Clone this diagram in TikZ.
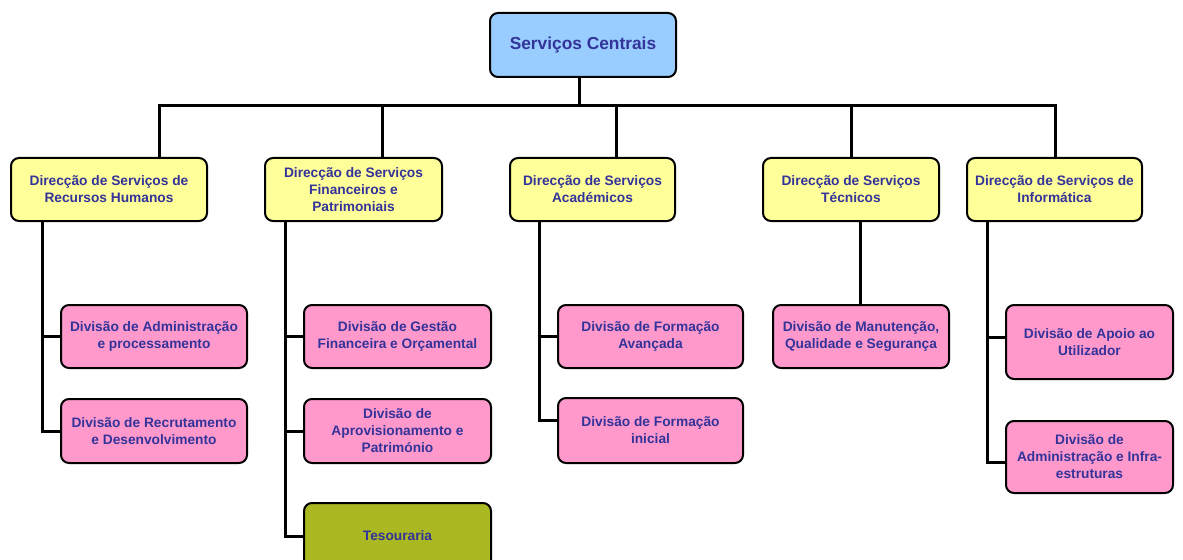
\documentclass[tikz,border=0pt]{standalone}
\usepackage{fontspec}
\setmainfont{Liberation Sans}
\usetikzlibrary{calc}
\definecolor{txt}{HTML}{333399}
\definecolor{topfill}{HTML}{99CCFF}
\definecolor{dirfill}{HTML}{FFFF99}
\definecolor{divfill}{HTML}{FF99CC}
\definecolor{tesfill}{HTML}{AAB822}
\tikzset{
  box/.style={draw=black, line width=1.5pt, rounded corners=6pt, align=center,
    text=txt, font=\fontsize{10.3}{12.75}\selectfont\bfseries, inner sep=1pt},
  topbox/.style={box, fill=topfill, font=\fontsize{13}{15}\selectfont\bfseries},
  dirbox/.style={box, fill=dirfill},
  divbox/.style={box, fill=divfill},
  tesbox/.style={box, fill=tesfill},
  link/.style={draw=black, line width=2.25pt}
}
\begin{document}
\begin{tikzpicture}[x=0.75pt, y=-0.75pt]
\useasboundingbox (0,0) rectangle (1183,560);
\clip (0,0) rectangle (1183,560);
% top
\node[topbox, minimum width=139.5pt, minimum height=48pt] (top) at (583,45) {Serviços Centrais};
% directions
\node[dirbox, minimum width=147pt, minimum height=47.25pt] (rh) at (109,189.5) {Direcção de Serviços de\\Recursos Humanos};
\node[dirbox, minimum width=132.75pt, minimum height=47.25pt] (fp) at (353.5,189.5) {Direcção de Serviços\\Financeiros e\\Patrimoniais};
\node[dirbox, minimum width=123.75pt, minimum height=47.25pt] (ac) at (592.5,189.5) {Direcção de Serviços\\Académicos};
\node[dirbox, minimum width=132pt, minimum height=47.25pt] (te) at (851,189.5) {Direcção de Serviços\\Técnicos};
\node[dirbox, minimum width=131.25pt, minimum height=47.25pt] (inf) at (1054.5,189.5) {Direcção de Serviços de\\Informática};
% divisions
\node[divbox, minimum width=139.5pt, minimum height=47.25pt] (rh1) at (154,336.5) {Divisão de Administração\\e processamento};
\node[divbox, minimum width=139.5pt, minimum height=48pt] (rh2) at (154,431) {Divisão de Recrutamento\\e Desenvolvimento};
\node[divbox, minimum width=140.25pt, minimum height=47.25pt] (fp1) at (397.5,336.5) {Divisão de Gestão\\Financeira e Orçamental};
\node[divbox, minimum width=140.25pt, minimum height=48pt] (fp2) at (397.5,431) {Divisão de\\Aprovisionamento e\\Património};
\node[tesbox, minimum width=140.25pt, minimum height=49.5pt] (tes) at (397.5,536) {Tesouraria};
\node[divbox, minimum width=138.75pt, minimum height=47.25pt] (ac1) at (650.5,336.5) {Divisão de Formação\\Avançada};
\node[divbox, minimum width=138.75pt, minimum height=48.75pt] (ac2) at (650.5,430.5) {Divisão de Formação\\inicial};
\node[divbox, minimum width=132pt, minimum height=47.25pt] (te1) at (861,336.5) {Divisão de Manutenção,\\Qualidade e Segurança};
\node[divbox, minimum width=125.25pt, minimum height=55.5pt] (inf1) at (1089.5,342) {Divisão de Apoio ao\\Utilizador};
\node[divbox, minimum width=125.25pt, minimum height=54pt] (inf2) at (1089.5,457) {Divisão de\\Administração e Infra-\\estruturas};
% bus
\coordinate (bus) at (579,106);
\coordinate (d1) at (159,158);
\coordinate (d2) at (382,158);
\coordinate (d3) at (616,158);
\coordinate (d4) at (851,158);
\coordinate (d5) at (1055,158);
\draw[link] (top.south -| bus) -- (bus);
\draw[link] (d1) -- (d1 |- bus) -- (d5 |- bus) -- (d5);
\draw[link] (d2) -- (d2 |- bus);
\draw[link] (d3) -- (d3 |- bus);
\draw[link] (d4) -- (d4 |- bus);
% spines
\coordinate (s1) at (42,221);
\coordinate (s2) at (285,221);
\coordinate (s3) at (539,221);
\coordinate (s4) at (860,221);
\coordinate (s5) at (987,221);
\draw[link] (s1) |- (rh1.west);
\draw[link] (s1) |- (rh2.west);
\draw[link] (s2) |- (fp1.west);
\draw[link] (s2) |- (fp2.west);
\draw[link] (s2) |- (tes.west);
\draw[link] (s3) |- (ac1.west);
\draw[link] (s3) |- ([yshift=7.5pt]ac2.west);
\draw[link] (s4) -- (s4 |- te1.north);
\draw[link] (s5) |- ([yshift=3.75pt]inf1.west);
\draw[link] (s5) |- ([yshift=-3.75pt]inf2.west);
\end{tikzpicture}
\end{document}
